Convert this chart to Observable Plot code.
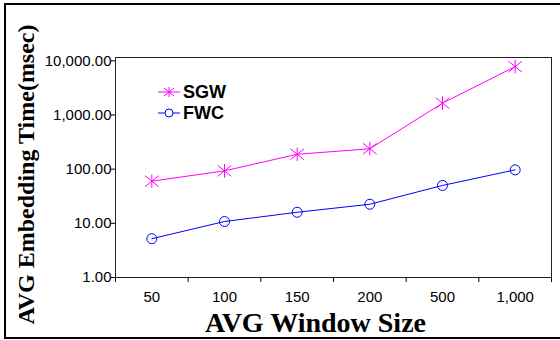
<!DOCTYPE html>
<html>
<head>
<meta charset="utf-8">
<script src="https://cdn.jsdelivr.net/npm/d3@7"></script>
<script src="https://cdn.jsdelivr.net/npm/@observablehq/plot@0.6"></script>
<style>
  html, body { margin: 0; padding: 0; background: #fff; }
  #wrap { position: relative; width: 560px; height: 340px; overflow: hidden; }
  #border { position: absolute; left: 4px; top: 3px; width: 620px; height: 332px;
            border-top: 2px solid #000; border-left: 2px solid #000; border-bottom: 2px solid #000; pointer-events: none; }
  #legend { position: absolute; left: 0; top: 0; }
</style>
</head>
<body>
<div id="wrap"><div id="border"></div></div>
<script>
// ---- data ----
const categories = ["50", "100", "150", "200", "500", "1,000"];
const sgw = [60, 93, 188, 238, 1650, 7800];
const fwc = [5.2, 10.8, 16, 22.5, 50, 97];
const yTicks = [1, 10, 100, 1000, 10000];
const seriesNames = ["SGW", "FWC"];
const seriesColors = ["#FF00FF", "#0000FF"];

const rows = [];
categories.forEach((c, i) => {
  rows.push({i, cat: c, series: "SGW", v: sgw[i]});
  rows.push({i, cat: c, series: "FWC", v: fwc[i]});
});
const sgwRows = rows.filter(d => d.series === "SGW");
const fwcRows = rows.filter(d => d.series === "FWC");

const starSymbol = {
  draw(ctx, size) {
    const r = Math.sqrt(size / Math.PI);
    ctx.moveTo(0, -r); ctx.lineTo(0, r);
    ctx.moveTo(-r, -r * 0.8); ctx.lineTo(r, r * 0.8);
    ctx.moveTo(-r, r * 0.8); ctx.lineTo(r, -r * 0.8);
  }
};

const boundaries = d3.range(categories.length + 1).map(k => k - 0.5);
const idx = d3.range(categories.length);
const tickFont = "'Liberation Sans', Arial, sans-serif";

const chart = Plot.plot({
  width: 560,
  height: 340,
  marginLeft: 115,
  marginRight: 9,
  marginTop: 57,
  marginBottom: 63,
  style: {fontFamily: tickFont, background: "transparent", overflow: "visible"},
  x: {type: "linear", domain: [-0.5, categories.length - 0.5], axis: null},
  y: {type: "log", domain: [1, 11500], axis: null},
  marks: [
    Plot.frame({stroke: "#222", strokeWidth: 1}),
    Plot.axisY({ticks: yTicks, tickFormat: d3.format(",.2f"), tickSize: 4, tickPadding: 0,
                fontSize: 15, label: null, color: "#000"}),
    Plot.axisX({ticks: boundaries, tickFormat: () => "", tickSize: 5, label: null}),
    Plot.axisX({ticks: idx, tickFormat: i => categories[i], tickSize: 0, tickPadding: 14,
                fontSize: 15, label: null}),
    Plot.line(sgwRows, {x: "i", y: "v", stroke: seriesColors[0], strokeWidth: 1}),
    Plot.dot(sgwRows, {x: "i", y: "v", symbol: starSymbol, r: 6.8, stroke: seriesColors[0], strokeWidth: 1}),
    Plot.line(fwcRows, {x: "i", y: "v", stroke: seriesColors[1], strokeWidth: 1}),
    Plot.dot(fwcRows, {x: "i", y: "v", r: 5, stroke: seriesColors[1], fill: "none", strokeWidth: 1}),
    Plot.text(["AVG Embedding Time(msec)"], {frameAnchor: "left", rotate: -90, dx: -89, dy: 7,
      textAnchor: "middle", lineAnchor: "middle", fontSize: 24, fontWeight: "bold",
      fontFamily: "'Liberation Serif', 'Times New Roman', serif", fill: "#000"}),
    Plot.text(["AVG Window Size"], {frameAnchor: "bottom", dx: -18, dy: 46,
      textAnchor: "middle", lineAnchor: "middle", fontSize: 28, fontWeight: "bold",
      fontFamily: "'Liberation Serif', 'Times New Roman', serif", fill: "#000"})
  ]
});
const wrap = document.getElementById("wrap");
wrap.insertBefore(chart, wrap.firstChild);

// legend overlay
const lg = d3.select(wrap).append("svg").attr("id", "legend")
  .attr("width", 560).attr("height", 340);
const legendY = [92, 113];
seriesNames.forEach((name, k) => {
  const g = lg.append("g").attr("transform", `translate(158,${legendY[k]})`);
  g.append("line").attr("x1", 0).attr("x2", 22).attr("y1", 0).attr("y2", 0)
    .attr("stroke", seriesColors[k]).attr("stroke-width", 1);
  if (k === 0) {
    const r = 5;
    g.append("path").attr("d", `M11,${-r}L11,${r}M${11 - r},${-r * 0.8}L${11 + r},${r * 0.8}M${11 - r},${r * 0.8}L${11 + r},${-r * 0.8}`)
      .attr("stroke", seriesColors[k]).attr("fill", "none");
  } else {
    g.append("circle").attr("cx", 11).attr("cy", 0).attr("r", 4)
      .attr("stroke", seriesColors[k]).attr("fill", "#fff");
  }
  g.append("text").attr("x", 25).attr("y", 0).attr("dy", "0.36em")
    .attr("font-family", tickFont).attr("font-weight", "bold").attr("font-size", 18)
    .attr("fill", "#000").text(name);
});
</script>
</body>
</html>
